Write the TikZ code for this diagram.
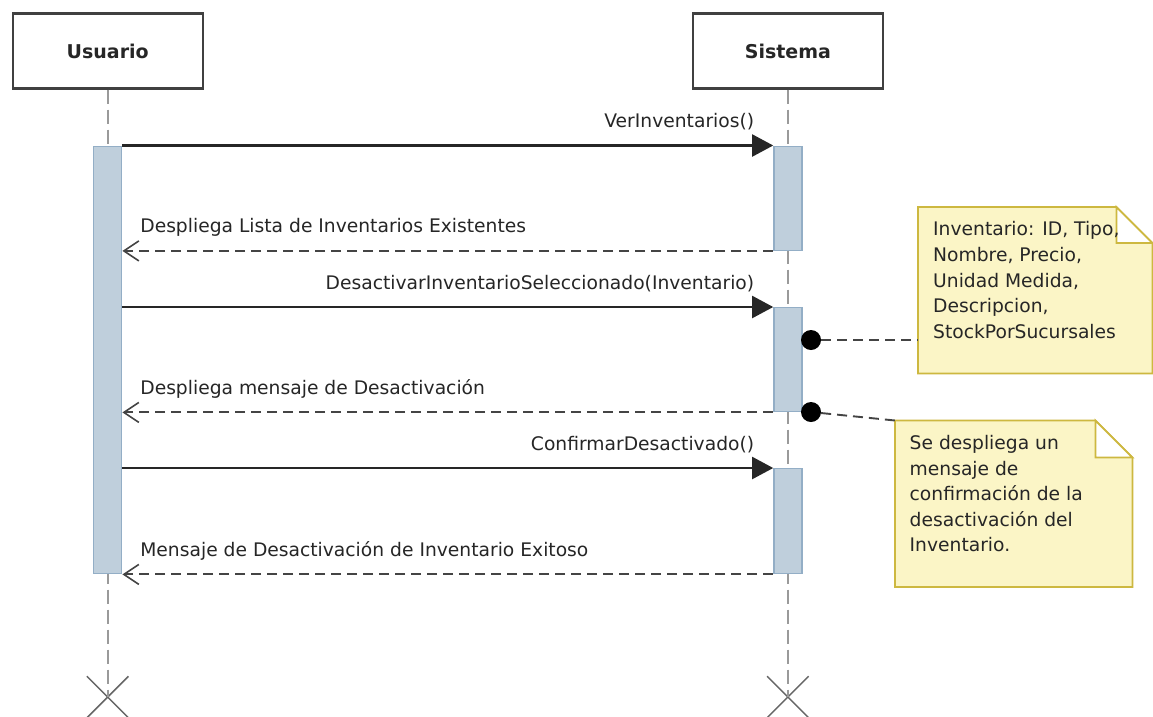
\documentclass[tikz,border=0pt]{standalone}
\usepackage{fontspec}
\setmainfont{DejaVu Sans}
\usepackage{tikz}
\usetikzlibrary{positioning, fit, shapes, arrows.meta}
\definecolor{lifegray}{HTML}{9A9A9A}
\definecolor{actfill}{HTML}{BFCFDC}
\definecolor{actdraw}{HTML}{93AEC6}
\definecolor{notefill}{HTML}{FBF5C6}
\definecolor{notedraw}{HTML}{CDB840}
\definecolor{msggray}{HTML}{444444}
\newcommand{\msgfont}{\fontsize{18.7}{25.6}\selectfont}
\tikzstyle{actor}=[rectangle, draw=black!75, line width=2.2pt, minimum width=190pt, minimum height=75pt, font=\bfseries\fontsize{19}{23}\selectfont, text=black!85]
\tikzstyle{bar}=[rectangle, draw=actdraw, fill=actfill, line width=1.4pt, minimum width=28pt, inner sep=0pt, anchor=north]
\tikzstyle{life}=[draw=lifegray, line width=1.7pt, dash pattern=on 14pt off 6pt]
\tikzstyle{endmark}=[cross out, draw=black!60, line width=1.5pt, minimum size=40pt, inner sep=0pt]
\tikzstyle{call}=[draw=black!85, line width=2.1pt, -{Triangle[length=21pt, width=22pt]}]
\tikzstyle{ret}=[draw=msggray, line width=1.9pt, dash pattern=on 10pt off 6pt, -{Straight Barb[length=15pt, width=20pt, line width=1.6pt]}]
\tikzstyle{callabel}=[pos=1, anchor=base east, xshift=-18pt, yshift=18pt, inner sep=0pt, font=\msgfont, text=black!85]
\tikzstyle{retlabel}=[pos=1, anchor=base west, xshift=17pt, yshift=18pt, inner sep=0pt, font=\msgfont, text=black!85]
\tikzstyle{dot}=[circle, fill=black, minimum size=20pt, inner sep=0pt]
\tikzstyle{link}=[draw=msggray, line width=1.9pt, dash pattern=on 10pt off 6pt]
\tikzstyle{note}=[rectangle, inner sep=0pt, anchor=north west]
\tikzstyle{notetext}=[align=left, inner sep=0pt, anchor=north west, font=\msgfont, text=black!85]
% nota con esquina doblada: #1 nodo, #2 doblez
\newcommand{\doblez}[2]{%
  \draw[draw=notedraw, fill=notefill, line width=1.8pt] (#1.north west) -- ([xshift=-#2]#1.north east) -- ([yshift=-#2]#1.north east) -- (#1.south east) -- (#1.south west) -- cycle;
  \draw[draw=notedraw, fill=white, line width=1.8pt] ([xshift=-#2]#1.north east) -- ([xshift=-#2, yshift=-#2]#1.north east) -- ([yshift=-#2]#1.north east) -- cycle;}

\begin{document}
\begin{tikzpicture}[x=1pt, y=-1pt]
                \useasboundingbox[fill=white] (0,0) rectangle (1153,716);
                % Participantes
                \node[actor] (usr) at (107.7,51) {Usuario};
                \node[actor, right=488pt of usr] (sis) {Sistema};
                \node[endmark] (ux) at (usr.south |- 0,697) {};
                \node[endmark] (sx) at (sis.south |- 0,697) {};
                \draw[life] (usr.south) -- (ux.center);
                \draw[life] (sis.south) -- (sx.center);

                % Activaciones
                \node[bar, minimum height=427pt] (ua) at (usr.south |- 0,145.5) {};
                \node[bar, minimum height=104pt] (sa1) at (sis.south |- 0,145.5) {};
                \node[bar, minimum height=104pt] (sa2) at (sis.south |- 0,307) {};
                \node[bar, minimum height=105pt] (sa3) at (sis.south |- 0,468) {};

                % Mensajes
                \draw[call] (ua.east |- sa1.north) -- (sa1.north west) node[callabel] {VerInventarios()};
                \draw[ret] (sa1.south west) -- (ua.east |- sa1.south) node[retlabel] {Despliega Lista de Inventarios Existentes};
                \draw[call] (ua.east |- sa2.north) -- (sa2.north west) node[callabel] {DesactivarInventarioSeleccionado(Inventario)};
                \draw[ret] (sa2.south west) -- (ua.east |- sa2.south) node[retlabel] {Despliega mensaje de Desactivación};
                \draw[call] (ua.east |- sa3.north) -- (sa3.north west) node[callabel] {ConfirmarDesactivado()};
                \draw[ret] (sa3.south west) -- (ua.east |- sa3.south) node[retlabel] {Mensaje de Desactivación de Inventario Exitoso};

                % Notas
                \node[note, minimum width=234pt, minimum height=166pt] (n1) at (918,207) {};
                \doblez{n1}{36}
                \node[notetext] (t1) at ([xshift=15pt, yshift=-14.5pt]n1.north west) {Inventario: ID, Tipo,\\Nombre, Precio,\\Unidad Medida,\\Descripcion,\\StockPorSucursales};
                \node[note, minimum width=237pt, minimum height=166pt] (n2) at (895,420.5) {};
                \doblez{n2}{37}
                \node[notetext] (t2) at ([xshift=14.5pt, yshift=-14.5pt]n2.north west) {Se despliega un\\mensaje de\\confirmación de la\\desactivación del\\Inventario.};
                \node[dot] (d1) at (811,340) {};
                \node[dot] (d2) at (811,412) {};
                \draw[link] (d1) -- (n1.west |- d1);
                \draw[link] (d2) -- (n2.north west);
            \end{tikzpicture}
\end{document}
